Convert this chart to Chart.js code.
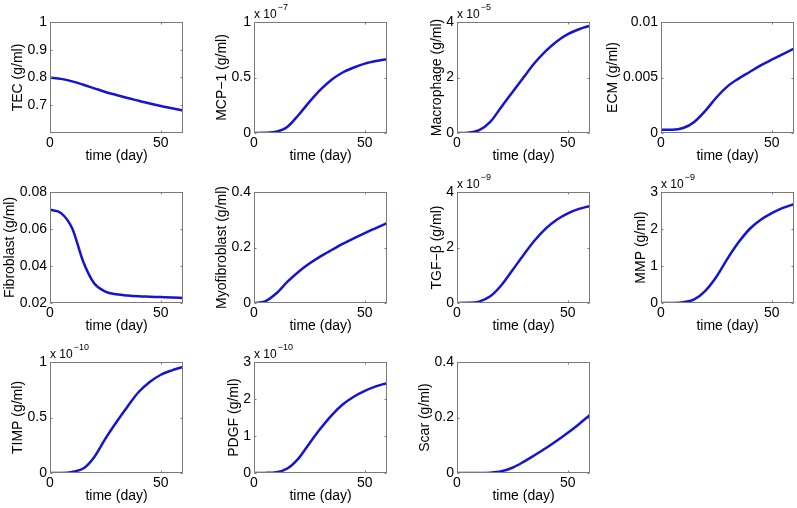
<!DOCTYPE html>
<html>
<head>
<meta charset="UTF-8">
<script src="https://cdn.jsdelivr.net/npm/chart.js"></script>
<style>
  body { margin: 0; background: #fff; }
  #wrap { position: relative; width: 797px; height: 508px; overflow: hidden; }
  #wrap canvas { position: absolute; }
</style>
</head>
<body>
<div id="wrap"></div>
<script>
// time in days
const time = [0, 5, 10, 15, 20, 25, 30, 35, 40, 45, 50, 55, 60];

// values (scaled by the exponent shown over the panel where there is one)
const tec          = [0.800, 0.795, 0.786, 0.774, 0.761, 0.748, 0.737, 0.726, 0.716, 0.706, 0.697, 0.689, 0.681];
const mcp1         = [0, 0.002, 0.012, 0.055, 0.16, 0.28, 0.39, 0.48, 0.545, 0.59, 0.625, 0.648, 0.665];
const macrophage   = [0, 0.01, 0.1, 0.4, 0.94, 1.47, 2.0, 2.52, 2.95, 3.3, 3.56, 3.74, 3.87];
const ecm          = [0.0003, 0.0003, 0.00045, 0.001, 0.002, 0.0032, 0.0042, 0.0049, 0.0055, 0.0061, 0.0066, 0.0071, 0.0076];
const fibroblast   = [0.0704, 0.0686, 0.0604, 0.0423, 0.0305, 0.0262, 0.0247, 0.024, 0.0236, 0.0234, 0.0232, 0.023, 0.0227];
const myofibroblast= [0, 0.006, 0.034, 0.076, 0.112, 0.142, 0.168, 0.191, 0.213, 0.233, 0.252, 0.27, 0.288];
const tgfb         = [0, 0.005, 0.05, 0.24, 0.64, 1.18, 1.73, 2.25, 2.68, 3.0, 3.23, 3.39, 3.5];
const mmp          = [0, 0.002, 0.02, 0.1, 0.33, 0.71, 1.2, 1.64, 2.0, 2.25, 2.43, 2.57, 2.67];
const timp         = [0, 0.001, 0.01, 0.04, 0.145, 0.31, 0.46, 0.6, 0.73, 0.82, 0.885, 0.925, 0.955];
const pdgf         = [0, 0.003, 0.02, 0.12, 0.39, 0.8, 1.2, 1.56, 1.85, 2.06, 2.22, 2.34, 2.43];
const scar         = [0, 0, 0, 0.001, 0.006, 0.019, 0.04, 0.064, 0.089, 0.116, 0.145, 0.176, 0.209];

const series   = [tec, mcp1, macrophage, ecm, fibroblast, myofibroblast, tgfb, mmp, timp, pdgf, scar];
const yTitles  = ['TEC (g/ml)', 'MCP\u22121 (g/ml)', 'Macrophage (g/ml)', 'ECM (g/ml)', 'Fibroblast (g/ml)',
                  'Myofibroblast (g/ml)', 'TGF\u2212\u03b2 (g/ml)', 'MMP (g/ml)', 'TIMP (g/ml)', 'PDGF (g/ml)', 'Scar (g/ml)'];
const yMins    = [0.6, 0, 0, 0, 0.02, 0, 0, 0, 0, 0, 0];
const yMaxs    = [1, 1, 4, 0.01, 0.08, 0.4, 4, 3, 1, 3, 0.4];
const yTicks   = [[0.7, 0.8, 0.9, 1], [0, 0.5, 1], [0, 2, 4], [0, 0.005, 0.01], [0.02, 0.04, 0.06, 0.08],
                  [0, 0.2, 0.4], [0, 2, 4], [0, 1, 2, 3], [0, 0.5, 1], [0, 1, 2, 3], [0, 0.2, 0.4]];
const exponents = [null, -7, -5, null, null, null, -9, -9, -10, -10, null];
const xTicks   = [0, 50];

// layout of the 3x4 grid
const colLeft = [50, 254, 457, 661];
const rowTop  = [22, 192, 362];
const plotW = 133, plotH = 111;
const ML = 60, MT = 20, MB = 34, MR = 3;
const tickPad = 3, titleGap = 9.5, titleLH = 16.8;

const font = "'Liberation Sans', Arial, Helvetica, sans-serif";

// measure tick label widths so the y title sits just left of them
const mctx = document.createElement('canvas').getContext('2d');
mctx.font = '14px ' + font;
const labelWidth = ticks => Math.max(...ticks.map(v => mctx.measureText(String(v)).width));

const boxPlugin = {
  id: 'box',
  afterDraw(chart, args, opts) {
    const { ctx, chartArea: a, scales } = chart;
    const l = Math.round(a.left) + 0.5, r = Math.round(a.right) - 0.5;
    const t = Math.round(a.top) + 0.5, b = Math.round(a.bottom) - 0.5;
    ctx.save();
    ctx.strokeStyle = '#7a7a7a';
    ctx.lineWidth = 1;
    ctx.strokeRect(l, t, r - l, b - t);
    ctx.beginPath();
    scales.x.ticks.forEach(tk => {
      const px = Math.round(scales.x.getPixelForValue(tk.value)) + 0.5;
      ctx.moveTo(px, b); ctx.lineTo(px, b - 2);
      ctx.moveTo(px, t); ctx.lineTo(px, t + 2);
    });
    scales.y.ticks.forEach(tk => {
      const py = Math.round(scales.y.getPixelForValue(tk.value)) + 0.5;
      ctx.moveTo(l, py); ctx.lineTo(l + 2, py);
      ctx.moveTo(r, py); ctx.lineTo(r - 2, py);
    });
    ctx.stroke();
    if (opts.exp != null) {
      ctx.fillStyle = '#000';
      ctx.textBaseline = 'alphabetic';
      ctx.font = '12px ' + font;
      ctx.fillText('x 10', a.left, a.top - 4);
      const w = ctx.measureText('x 10').width;
      ctx.font = '9px ' + font;
      ctx.fillText('\u2212' + Math.abs(opts.exp), a.left + w + 1, a.top - 12);
    }
    ctx.restore();
  }
};

const wrap = document.getElementById('wrap');

series.forEach((vals, i) => {
  const col = i % 4, row = Math.floor(i / 4);
  const cv = document.createElement('canvas');
  const cw = plotW + ML + MR, ch = plotH + MT + MB;
  cv.width = cw; cv.height = ch;
  cv.style.left = (colLeft[col] - ML) + 'px';
  cv.style.top = (rowTop[row] - MT) + 'px';
  cv.style.width = cw + 'px'; cv.style.height = ch + 'px';
  wrap.appendChild(cv);

  const titlePad = Math.max(0, ML - titleLH / 2 - (labelWidth(yTicks[i]) + tickPad + titleGap));

  new Chart(cv, {
    type: 'line',
    data: {
      datasets: [{
        data: time.map((d, k) => ({ x: d, y: vals[k] })),
        borderColor: '#1414d2',
        borderWidth: 2.5,
        pointRadius: 0,
        fill: false,
        cubicInterpolationMode: 'monotone'
      }]
    },
    options: {
      responsive: false,
      animation: false,
      devicePixelRatio: 1,
      layout: { padding: { top: MT, right: MR, left: 0, bottom: 0 } },
      plugins: { legend: { display: false }, tooltip: { enabled: false }, box: { exp: exponents[i] } },
      scales: {
        x: {
          type: 'linear', min: 0, max: 60,
          grid: { display: false, drawTicks: false },
          border: { display: false },
          afterBuildTicks: s => { s.ticks = xTicks.map(v => ({ value: v })); },
          afterFit: s => { s.height = MB; },
          ticks: { color: '#000', padding: 2, maxRotation: 0, font: { family: font, size: 14 }, callback: v => String(v) },
          title: { display: true, text: 'time (day)', color: '#000', padding: { top: 0, bottom: 2 }, font: { family: font, size: 14 } }
        },
        y: {
          type: 'linear', min: yMins[i], max: yMaxs[i],
          grid: { display: false, drawTicks: false },
          border: { display: false },
          afterBuildTicks: s => { s.ticks = yTicks[i].map(v => ({ value: v })); },
          afterFit: s => { s.width = ML; },
          ticks: { color: '#000', padding: tickPad, font: { family: font, size: 14 }, callback: v => String(v) },
          title: { display: true, text: yTitles[i], color: '#000', padding: { top: titlePad, bottom: 0 }, font: { family: font, size: 14 } }
        }
      }
    },
    plugins: [boxPlugin]
  });
});
</script>
</body>
</html>
